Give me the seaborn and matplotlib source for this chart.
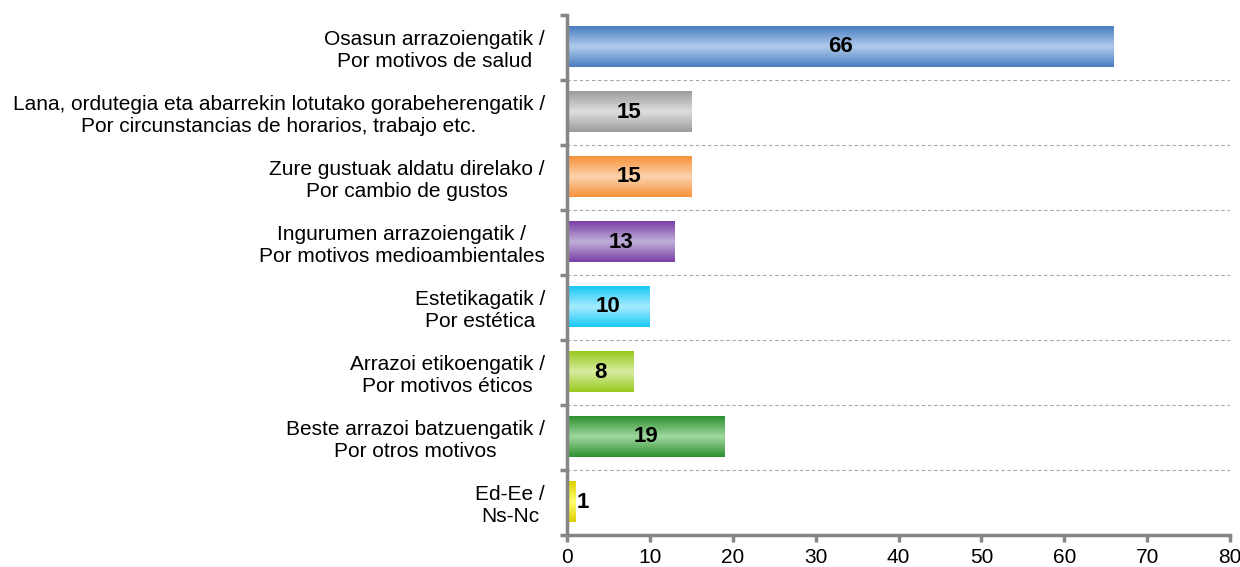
import numpy as np
import pandas as pd
import matplotlib
matplotlib.use("Agg")
import matplotlib.pyplot as plt
import seaborn as sns
from matplotlib.colors import LinearSegmentedColormap

''' DATA '''
labels = ["Osasun arrazoiengatik /\nPor motivos de salud",
          "Lana, ordutegia eta abarrekin lotutako gorabeherengatik /\nPor circunstancias de horarios, trabajo etc.",
          "Zure gustuak aldatu direlako /\nPor cambio de gustos",
          "Ingurumen arrazoiengatik /\nPor motivos medioambientales",
          "Estetikagatik /\nPor estética",
          "Arrazoi etikoengatik /\nPor motivos éticos",
          "Beste arrazoi batzuengatik /\nPor otros motivos",
          "Ed-Ee /\nNs-Nc"]
values = [66, 15, 15, 13, 10, 8, 19, 1]
# (edge colour, centre colour) for the vertical gradient of each bar
dark_cols = ["#4a7dc0", "#9c9c9c", "#f7923a", "#7a3fa6", "#19c8f5", "#98c91e", "#2f9132", "#ddd000"]
light_cols = ["#b0cbec", "#dedede", "#fdd3ad", "#c1afd8", "#a6ecff", "#d9eca0", "#9fd89f", "#ffff70"]

df = pd.DataFrame({"label": labels, "value": values})

''' PLOT '''
sns.set_style("white")
plt.rcParams['font.family'] = ['Liberation Sans', 'DejaVu Sans']
plt.rcParams['text.color'] = 'black'
plt.rcParams['xtick.color'] = 'black'
plt.rcParams['ytick.color'] = 'black'
fig = plt.figure(figsize=(12.4, 5.67), dpi=100)
ax = fig.add_axes([567/1240, 1 - 534.5/567, (1230 - 567)/1240, (534.5 - 14.5)/567])

bar_h = 0.63
sns.barplot(data=df, x="value", y="label", orient="h", ax=ax, width=bar_h,
            color="white", edgecolor="none")

# gradient fill on each bar
for i, p in enumerate(ax.patches):
    x0, y0 = p.get_x(), p.get_y()
    w, h = p.get_width(), p.get_height()
    cmap = LinearSegmentedColormap.from_list("g", [dark_cols[i], light_cols[i], dark_cols[i]])
    grad = np.linspace(0, 1, 100).reshape(-1, 1)
    ax.imshow(grad, cmap=cmap, aspect="auto", extent=[x0, x0 + w, y0 + h, y0],
              zorder=2, interpolation="bicubic")
    p.set_visible(False)

ax.set_xlim(0, 80)
ax.set_ylim(7.5, -0.5)

# value labels
for i, v in enumerate(values):
    if v < 3:
        ax.text(v + 0.2, i, str(v), ha="left", va="center", fontsize=16, fontweight="bold", zorder=3)
    else:
        ax.text(v / 2, i, str(v), ha="center", va="center", fontsize=16, fontweight="bold", zorder=3)

# dashed separators between categories
for b in np.arange(0.5, 7.5, 1):
    ax.axhline(b, color="#a6a6a6", linestyle=(0, (3, 2.5)), linewidth=0.8, zorder=1)

# axes styling
for s in ["top", "right"]:
    ax.spines[s].set_visible(False)
for s in ["left", "bottom"]:
    ax.spines[s].set_color("#868686")
    ax.spines[s].set_linewidth(2.5)

ax.set_xticks(np.arange(0, 81, 10))
ax.set_yticks(np.arange(-0.5, 8, 1), minor=True)
ax.tick_params(axis="y", which="major", left=True, length=0, pad=16, labelsize=15)
ax.tick_params(axis="y", which="minor", left=True, length=5, width=2.5, color="#868686", direction="out")
ax.tick_params(axis="x", bottom=True, length=5, width=2.5, color="#868686", direction="out", labelsize=15, pad=5)
for t in ax.get_yticklabels():
    t.set_multialignment("center")
ax.set_xlabel("")
ax.set_ylabel("")

fig.savefig("out.png", dpi=100)
